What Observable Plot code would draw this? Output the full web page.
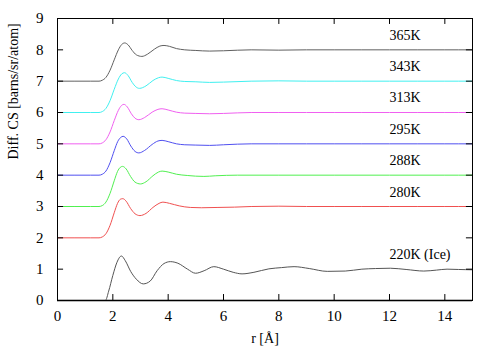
<!DOCTYPE html>
<html>
<head>
<meta charset="utf-8">
<script src="https://cdn.jsdelivr.net/npm/d3@7"></script>
<script src="https://cdn.jsdelivr.net/npm/@observablehq/plot@0.6"></script>
<style>
  html, body { margin: 0; padding: 0; background: #fff; font-family: "Liberation Serif", serif; }
  #chart svg { display: block; }
</style>
</head>
<body>
<div id="chart"></div>
<script>
// ---- data ----
const xTicks = [0, 2, 4, 6, 8, 10, 12, 14];
const yTicks = [0, 1, 2, 3, 4, 5, 6, 7, 8, 9];

const seriesNames  = ["365K", "343K", "313K", "295K", "288K", "280K", "220K (Ice)"];
const seriesColors = ["#606060", "#40f0f0", "#f060f0", "#5050f0", "#50f050", "#f05050", "#555555"];
const labelY       = [8.47, 7.47, 6.47, 5.47, 4.46, 3.46, 1.46];

const r365 = [0, 1.2, 1.5, 1.62, 1.75, 1.9, 2.05, 2.2, 2.32, 2.43, 2.55, 2.7, 2.85, 3.05, 3.25, 3.5, 3.7, 3.85, 4.05, 4.3, 4.6, 5.0, 5.5, 6.0, 7.0, 8.0, 9.0, 10.0, 11.0, 12.0, 13.0, 14.0, 15.0];
const v365 = [7.0, 7.0, 7.0, 7.03, 7.12, 7.35, 7.68, 8.0, 8.17, 8.22, 8.16, 7.98, 7.84, 7.79, 7.86, 8.02, 8.12, 8.14, 8.11, 8.04, 8.0, 7.98, 7.96, 7.97, 8.0, 7.99, 8.0, 8.0, 8.0, 8.0, 8.0, 8.0, 8.0];

const r343 = [0, 1.2, 1.5, 1.62, 1.75, 1.9, 2.05, 2.2, 2.32, 2.42, 2.55, 2.7, 2.83, 2.96, 3.2, 3.45, 3.65, 3.78, 4.0, 4.3, 4.6, 5.0, 5.5, 6.0, 7.0, 8.0, 9.0, 10.0, 11.0, 12.0, 13.0, 14.0, 15.0];
const v343 = [6.0, 6.0, 6.0, 6.03, 6.13, 6.38, 6.74, 7.07, 7.23, 7.27, 7.18, 6.96, 6.82, 6.77, 6.85, 7.02, 7.11, 7.13, 7.09, 7.02, 6.99, 6.98, 6.96, 6.97, 7.0, 7.01, 7.0, 7.0, 7.0, 7.0, 7.0, 7.0, 7.0];

const r313 = [0, 1.2, 1.5, 1.62, 1.75, 1.9, 2.05, 2.2, 2.31, 2.40, 2.52, 2.67, 2.8, 2.94, 3.15, 3.42, 3.63, 3.78, 4.0, 4.3, 4.6, 5.0, 5.5, 6.0, 7.0, 8.0, 9.0, 10.0, 11.0, 12.0, 13.0, 14.0, 15.0];
const v313 = [5.0, 5.0, 5.0, 5.03, 5.13, 5.38, 5.74, 6.07, 6.22, 6.26, 6.18, 5.96, 5.82, 5.77, 5.84, 6.01, 6.10, 6.12, 6.08, 6.01, 5.98, 5.97, 5.96, 5.97, 6.0, 6.0, 6.0, 6.0, 6.0, 6.0, 6.0, 6.0, 6.0];

const r295 = [0, 1.2, 1.5, 1.62, 1.75, 1.9, 2.05, 2.18, 2.28, 2.37, 2.5, 2.65, 2.8, 2.94, 3.15, 3.42, 3.63, 3.78, 4.0, 4.3, 4.6, 5.0, 5.5, 6.0, 7.0, 8.0, 9.0, 10.0, 11.0, 12.0, 13.0, 14.0, 15.0];
const v295 = [4.0, 4.0, 4.0, 4.03, 4.13, 4.4, 4.78, 5.08, 5.2, 5.24, 5.16, 4.93, 4.76, 4.71, 4.79, 4.98, 5.09, 5.11, 5.07, 5.0, 4.97, 4.96, 4.95, 4.97, 5.0, 5.0, 5.0, 5.0, 5.0, 5.0, 5.0, 5.0, 5.0];

const r288 = [0, 1.2, 1.5, 1.62, 1.75, 1.9, 2.05, 2.17, 2.27, 2.35, 2.48, 2.64, 2.8, 3.0, 3.2, 3.45, 3.65, 3.78, 4.0, 4.3, 4.69, 5.29, 5.7, 6.5, 8.0, 10.0, 12.0, 14.0, 15.0];
const v288 = [3.0, 3.0, 3.0, 3.03, 3.14, 3.42, 3.82, 4.12, 4.25, 4.28, 4.2, 3.96, 3.78, 3.72, 3.79, 3.98, 4.1, 4.13, 4.1, 4.03, 3.99, 3.96, 3.98, 4.0, 4.0, 4.0, 4.0, 4.0, 4.0];

const r280 = [0, 1.2, 1.5, 1.62, 1.75, 1.9, 2.05, 2.17, 2.27, 2.36, 2.48, 2.64, 2.8, 2.98, 3.2, 3.45, 3.67, 3.81, 4.05, 4.4, 4.8, 5.2, 5.8, 6.4, 7.0, 8.0, 9.0, 10.0, 11.0, 12.0, 13.0, 14.0, 15.0];
const v280 = [2.0, 2.0, 2.0, 2.03, 2.13, 2.4, 2.8, 3.1, 3.23, 3.25, 3.17, 2.94, 2.77, 2.71, 2.78, 2.97, 3.1, 3.14, 3.1, 3.02, 2.97, 2.96, 2.97, 2.98, 3.0, 3.01, 3.0, 3.0, 3.0, 3.0, 3.0, 3.0, 3.0];

const r220 = [0, 1.73, 1.85, 2.0, 2.15, 2.31, 2.45, 2.65, 2.85, 3.1, 3.35, 3.6, 3.85, 4.08, 4.35, 4.7, 4.99, 5.3, 5.65, 6.0, 6.35, 6.67, 7.1, 7.64, 8.1, 8.55, 9.1, 9.75, 10.4, 11.0, 11.5, 12.03, 12.6, 13.24, 13.7, 14.08, 14.5, 15.0];
const v220 = [0.0, 0.0, 0.3, 0.8, 1.22, 1.42, 1.27, 0.92, 0.68, 0.53, 0.62, 0.95, 1.18, 1.24, 1.19, 1.0, 0.87, 0.95, 1.08, 1.0, 0.9, 0.85, 0.9, 1.01, 1.05, 1.08, 1.02, 0.93, 0.94, 1.0, 1.02, 1.03, 0.99, 0.94, 0.97, 1.0, 0.99, 0.98];

const rs = [r365, r343, r313, r295, r288, r280, r220];
const vs = [v365, v343, v313, v295, v288, v280, v220];

// ---- build table ----
const rows = [];
seriesNames.forEach((name, i) => {
  rs[i].forEach((r, j) => rows.push({series: name, r, v: vs[i][j]}));
});
const labels = seriesNames.map((name, i) => ({series: name, r: 12.0, v: labelY[i]}));

const FF = "Liberation Serif";
const tickLenY = 0.19, tickLenX = 0.22;

const chart = Plot.plot({
  width: 500,
  height: 350,
  marginLeft: 57,
  marginRight: 28,
  marginTop: 18,
  marginBottom: 50,
  style: {fontFamily: FF, fontSize: "14px", background: "#fff"},
  x: {domain: [0, 15], label: null},
  y: {domain: [0, 9], label: null},
  color: {domain: seriesNames, range: seriesColors},
  marks: [
    Plot.ruleY([0], {stroke: "#777", strokeWidth: 2}),
    Plot.line(rows, {x: "r", y: "v", z: "series", stroke: "series", strokeWidth: 1, curve: "monotone-x"}),
    // inward ticks on all four sides
    Plot.ruleX(xTicks, {x: d => d, y1: 0, y2: tickLenY, stroke: "#000"}),
    Plot.ruleX(xTicks, {x: d => d, y1: 9 - tickLenY, y2: 9, stroke: "#000"}),
    Plot.ruleY(yTicks, {y: d => d, x1: 0, x2: tickLenX, stroke: "#000"}),
    Plot.ruleY(yTicks, {y: d => d, x1: 15 - tickLenX, x2: 15, stroke: "#000"}),
    Plot.frame({stroke: "#000"}),
    Plot.axisX({ticks: xTicks, tickSize: 0, tickPadding: 10, fontSize: 15, fontFamily: FF, fill: "#000", label: null}),
    Plot.axisY({ticks: yTicks, tickSize: 0, tickPadding: 14, fontSize: 15, fontFamily: FF, fill: "#000", label: null}),
    Plot.text(labels, {x: "r", y: "v", text: "series", textAnchor: "start", fontSize: 14, fontFamily: FF, fill: "#000"}),
    Plot.text(["Diff. CS [barns/sr/atom]"], {frameAnchor: "left", rotate: -90, dx: -44, fontSize: 14, fontFamily: FF, fill: "#000"}),
    Plot.text(["r [Å]"], {frameAnchor: "bottom", dy: 42, fontSize: 14, fontFamily: FF, fill: "#000"})
  ]
});
document.getElementById("chart").appendChild(chart);
</script>
</body>
</html>
